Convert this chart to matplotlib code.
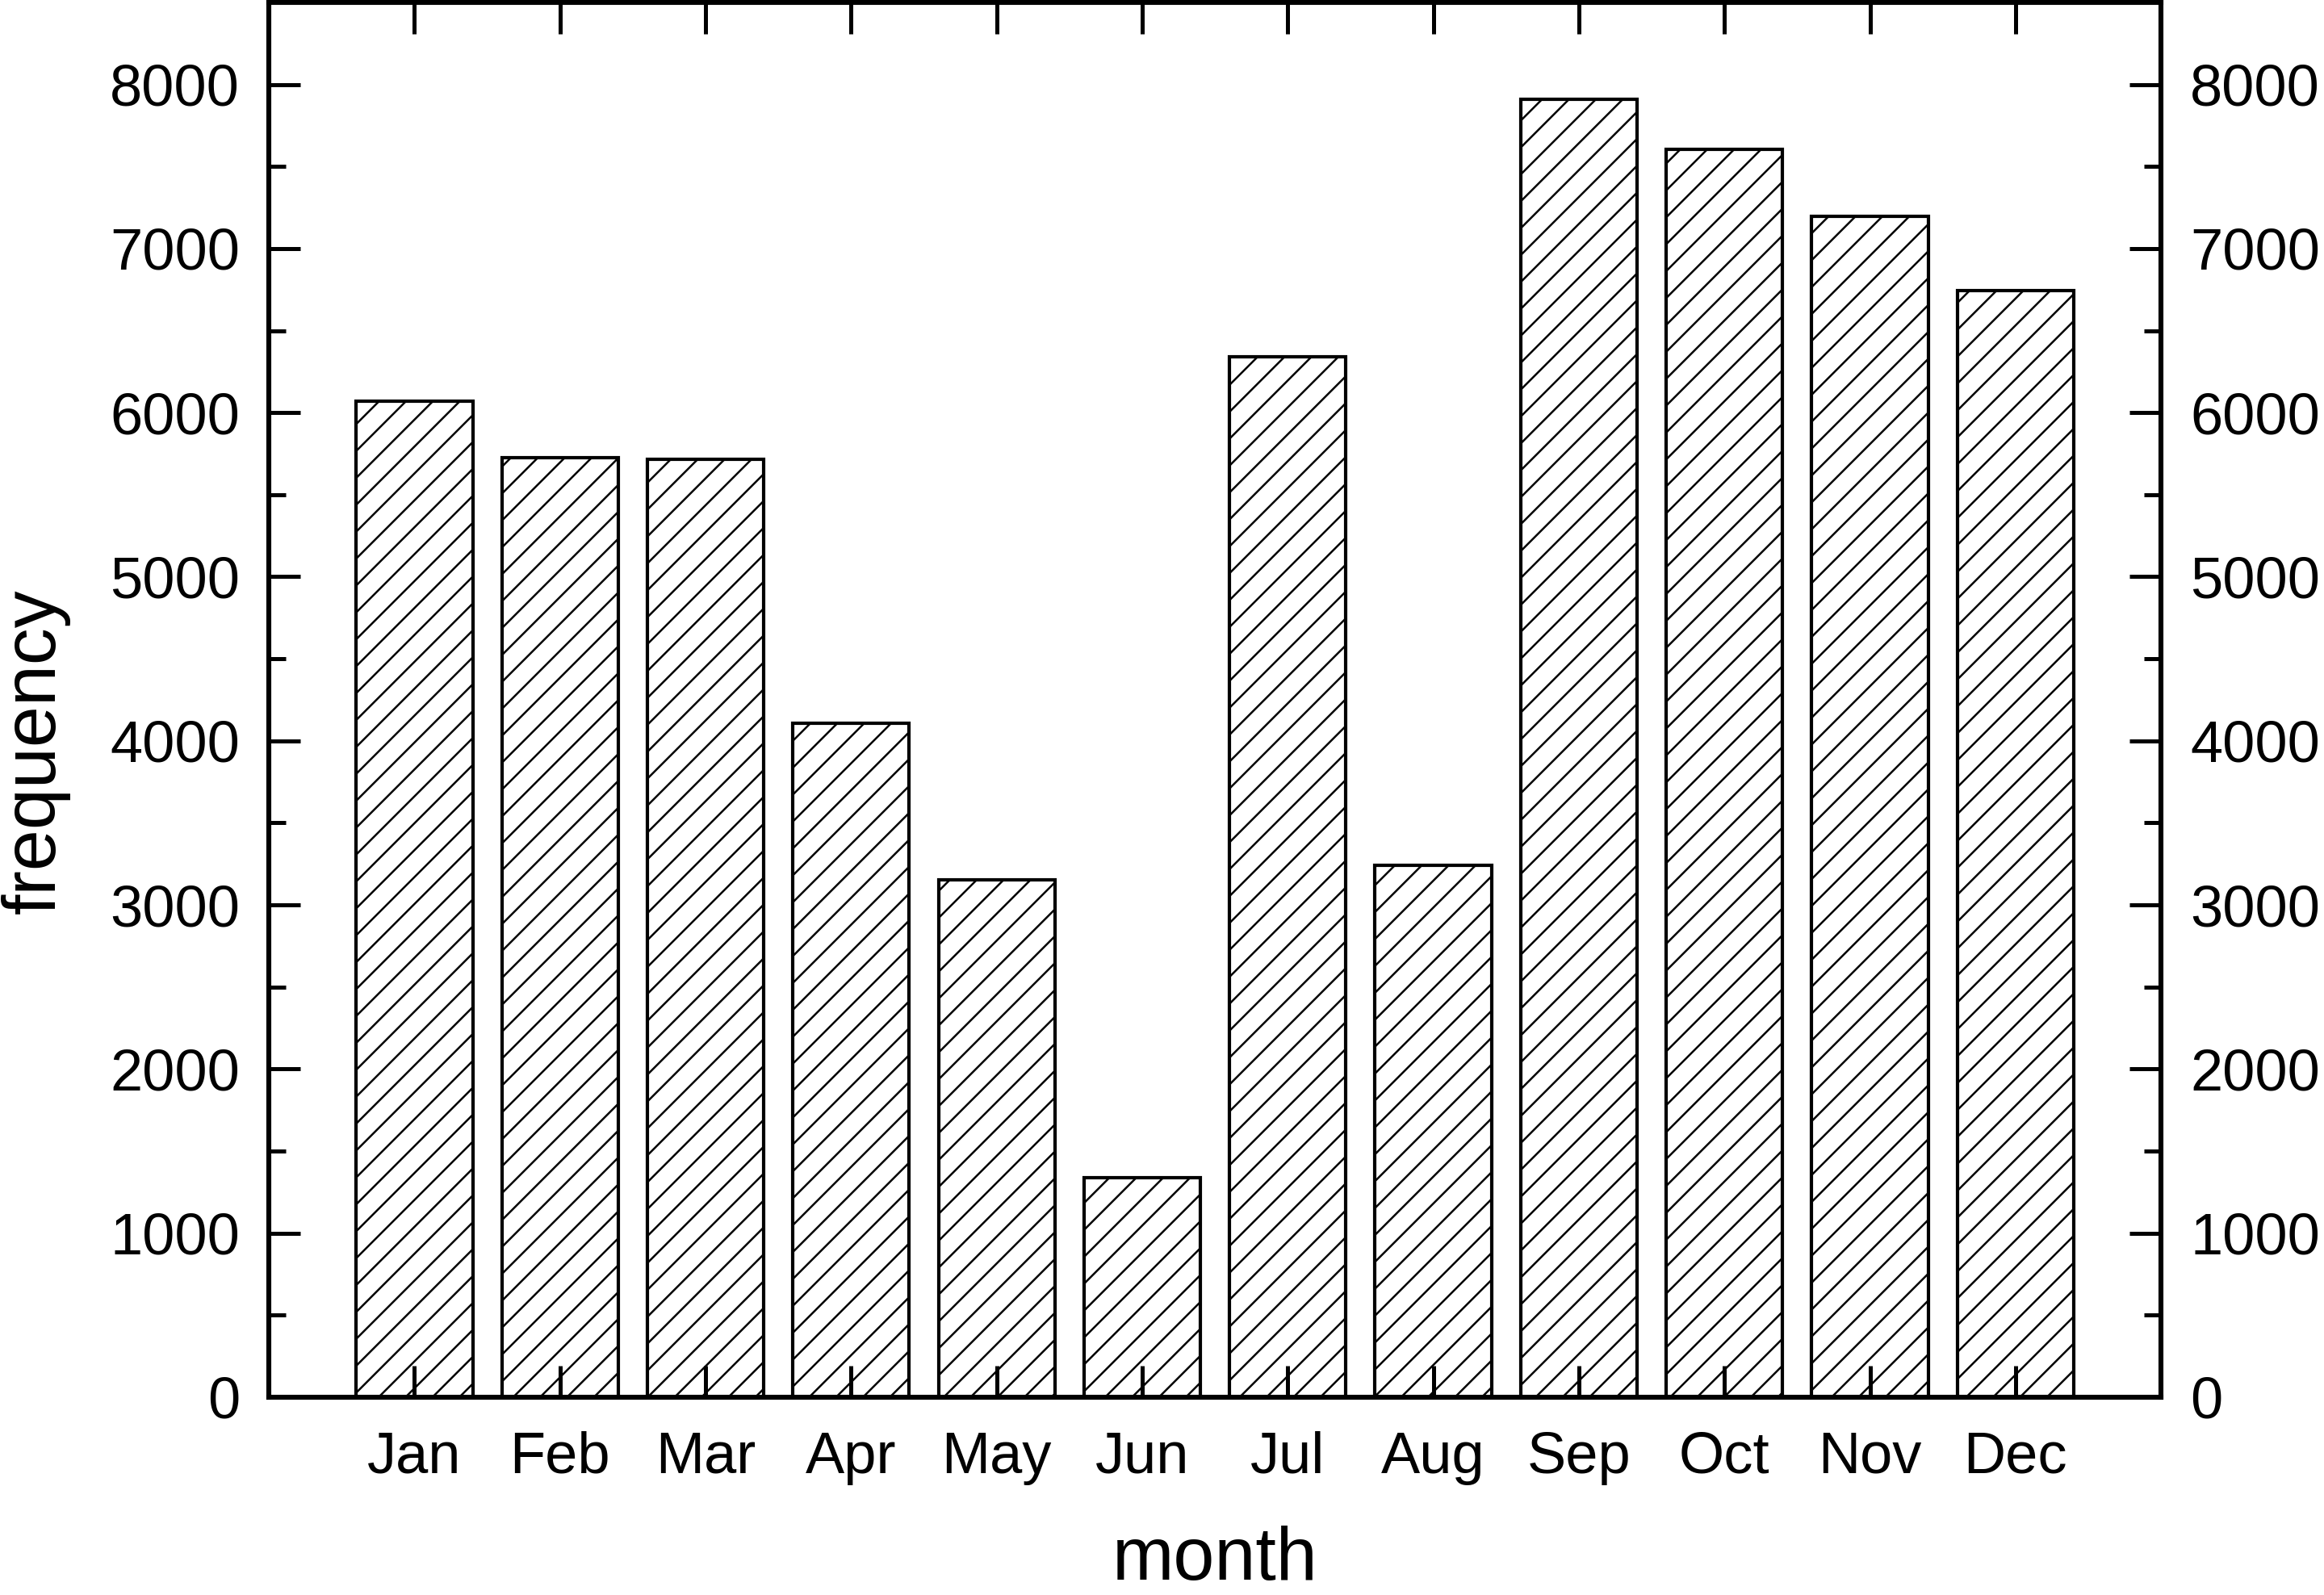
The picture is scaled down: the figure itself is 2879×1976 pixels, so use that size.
import numpy as np
import matplotlib
matplotlib.use("Agg")
import matplotlib.pyplot as plt
from matplotlib.ticker import MultipleLocator

# ---------------------------------------------------------------
# data
# ---------------------------------------------------------------
months = ["Jan", "Feb", "Mar", "Apr", "May", "Jun",
          "Jul", "Aug", "Sep", "Oct", "Nov", "Dec"]
frequency = [6070, 5725, 5716, 4108, 3151, 1336,
             6339, 3242, 7910, 7603, 7197, 6745]

plt.rcParams["font.family"] = ["Liberation Sans", "DejaVu Sans"]
plt.rcParams["hatch.linewidth"] = 0.9
plt.rcParams["hatch.color"] = "black"

DPI = 200
fig = plt.figure(figsize=(2879 / DPI, 1976 / DPI), dpi=DPI)
ax = fig.add_axes([0.1157, 0.1240, 0.8142, 0.8745])

x = np.arange(1, len(months) + 1)
ax.bar(x, frequency, width=0.8, facecolor="white", edgecolor="black",
       linewidth=1.5, hatch="//")

ax.set_xlim(0, 13)
ax.set_ylim(0, 8500)
ax.set_xticks(x)
ax.set_xticklabels(months)
ax.yaxis.set_major_locator(MultipleLocator(1000))
ax.yaxis.set_minor_locator(MultipleLocator(500))

for s in ax.spines.values():
    s.set_linewidth(2.2)

ax.tick_params(axis="both", which="major", direction="in", length=14,
               width=1.8, labelsize=26, top=True, right=True,
               labelright=True)
ax.tick_params(axis="y", which="minor", direction="in", length=7.5,
               width=1.8, right=True)
ax.tick_params(axis="y", which="major", pad=13)
ax.tick_params(axis="x", which="major", pad=15)

ax.set_xlabel("month", fontsize=33, labelpad=18)
ax.set_ylabel("frequency", fontsize=33)
ax.yaxis.set_label_coords(-0.105, 0.463)

fig.savefig("out.png", dpi=DPI)
